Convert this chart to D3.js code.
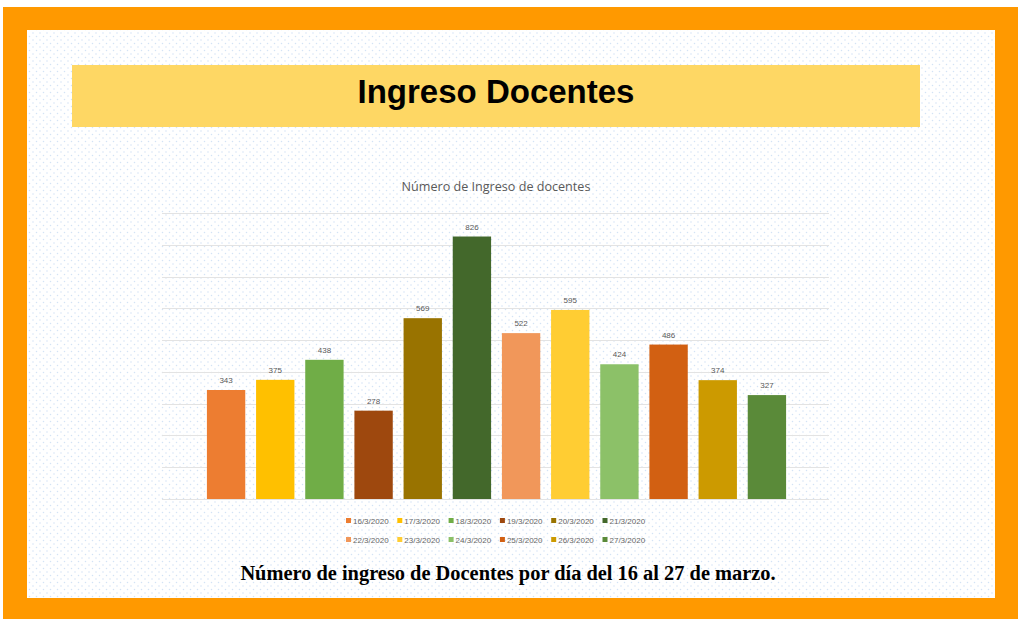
<!DOCTYPE html>
<html>
<head>
<meta charset="utf-8">
<script src="https://cdn.jsdelivr.net/npm/d3@7"></script>
<style>
  html, body { margin: 0; padding: 0; background: #ffffff; }
  svg { display: block; }
</style>
</head>
<body>
<svg id="chart" width="1018" height="619"></svg>
<script>
// Daily teacher logins, 16–27 March 2020
const dates = ["16/3/2020", "17/3/2020", "18/3/2020", "19/3/2020", "20/3/2020", "21/3/2020",
               "22/3/2020", "23/3/2020", "24/3/2020", "25/3/2020", "26/3/2020", "27/3/2020"];
const ingresos = [343, 375, 438, 278, 569, 826, 522, 595, 424, 486, 374, 327];
const colores = ["#ED7D31", "#FFC000", "#70AD47", "#9E480E", "#997300", "#43682B",
                 "#F1975A", "#FFCD33", "#8CC168", "#D26012", "#CC9A00", "#5A8A39"];
const yTicks = [0, 100, 200, 300, 400, 500, 600, 700, 800, 900];

const svg = d3.select("#chart");
const W = 1018, H = 619;

// Frame: orange border around a dotted white sheet
const defs = svg.append("defs");
const pat = defs.append("pattern")
  .attr("id", "dots").attr("patternUnits", "userSpaceOnUse")
  .attr("width", 7).attr("height", 7);
pat.append("rect").attr("width", 7).attr("height", 7).attr("fill", "#ffffff");
pat.append("circle").attr("cx", 1.5).attr("cy", 1.5).attr("r", 0.75).attr("fill", "#d3e3f6");
pat.append("circle").attr("cx", 5).attr("cy", 5).attr("r", 0.75).attr("fill", "#d3e3f6");

svg.append("rect").attr("x", 0).attr("y", 0).attr("width", W).attr("height", H).attr("fill", "#ffffff");
svg.append("rect").attr("x", 3).attr("y", 7).attr("width", W - 3).attr("height", H - 7).attr("fill", "#FF9900");
svg.append("rect").attr("x", 27).attr("y", 30).attr("width", 968).attr("height", 568).attr("fill", "url(#dots)");

// Banner
svg.append("rect").attr("x", 72).attr("y", 65).attr("width", 848).attr("height", 62).attr("fill", "#FED764");
svg.append("text")
  .attr("x", 496).attr("y", 103)
  .attr("text-anchor", "middle")
  .attr("font-family", "'Liberation Sans', Arial, sans-serif")
  .attr("font-weight", "bold").attr("font-size", 33)
  .attr("fill", "#000000")
  .text("Ingreso Docentes");

// Chart title
svg.append("text")
  .attr("x", 496).attr("y", 191)
  .attr("text-anchor", "middle")
  .attr("font-family", "'Open Sans', 'Liberation Sans', sans-serif")
  .attr("font-size", 12.6).attr("fill", "#595959")
  .text("Número de Ingreso de docentes");

// Scales
const y = d3.scaleLinear().domain([0, 900]).range([499, 213]);
const x = d3.scaleBand().domain(dates).range([201.5, 791.5]).paddingInner(0.22).paddingOuter(0.11);

// Gridlines
svg.append("g")
  .selectAll("line")
  .data(yTicks)
  .join("line")
  .attr("x1", 162).attr("x2", 829)
  .attr("y1", d => Math.round(y(d)) + 0.5)
  .attr("y2", d => Math.round(y(d)) + 0.5)
  .attr("stroke", "#e3e3e3").attr("stroke-width", 1);

// Bars
svg.append("g")
  .selectAll("rect")
  .data(dates)
  .join("rect")
  .attr("x", d => x(d))
  .attr("width", x.bandwidth())
  .attr("y", (d, i) => y(ingresos[i]))
  .attr("height", (d, i) => y(0) - y(ingresos[i]))
  .attr("fill", (d, i) => colores[i]);

// Value labels
svg.append("g")
  .selectAll("text")
  .data(dates)
  .join("text")
  .attr("x", d => x(d) + x.bandwidth() / 2)
  .attr("y", (d, i) => y(ingresos[i]) - 7)
  .attr("text-anchor", "middle")
  .attr("font-family", "'Liberation Sans', Arial, sans-serif")
  .attr("font-size", 8).attr("fill", "#595959")
  .text((d, i) => ingresos[i]);

// Legend: two rows of six
const legend = svg.append("g")
  .attr("font-family", "'Liberation Sans', Arial, sans-serif")
  .attr("font-size", 8).attr("fill", "#666666");
const item = legend.selectAll("g")
  .data(dates)
  .join("g")
  .attr("transform", (d, i) => `translate(${346 + (i % 6) * 51.3},${i < 6 ? 521 : 540})`);
item.append("rect")
  .attr("x", 0).attr("y", -3).attr("width", 5).attr("height", 5)
  .attr("fill", (d, i) => colores[i]);
item.append("text")
  .attr("x", 7).attr("y", 2.8)
  .text(d => d);

// Caption
svg.append("text")
  .attr("x", 508).attr("y", 580)
  .attr("text-anchor", "middle")
  .attr("font-family", "'Liberation Serif', 'DejaVu Serif', serif")
  .attr("font-weight", "bold").attr("font-size", 20.4)
  .attr("fill", "#000000")
  .text("Número de ingreso de Docentes por día del 16 al 27 de marzo.");
</script>
</body>
</html>
